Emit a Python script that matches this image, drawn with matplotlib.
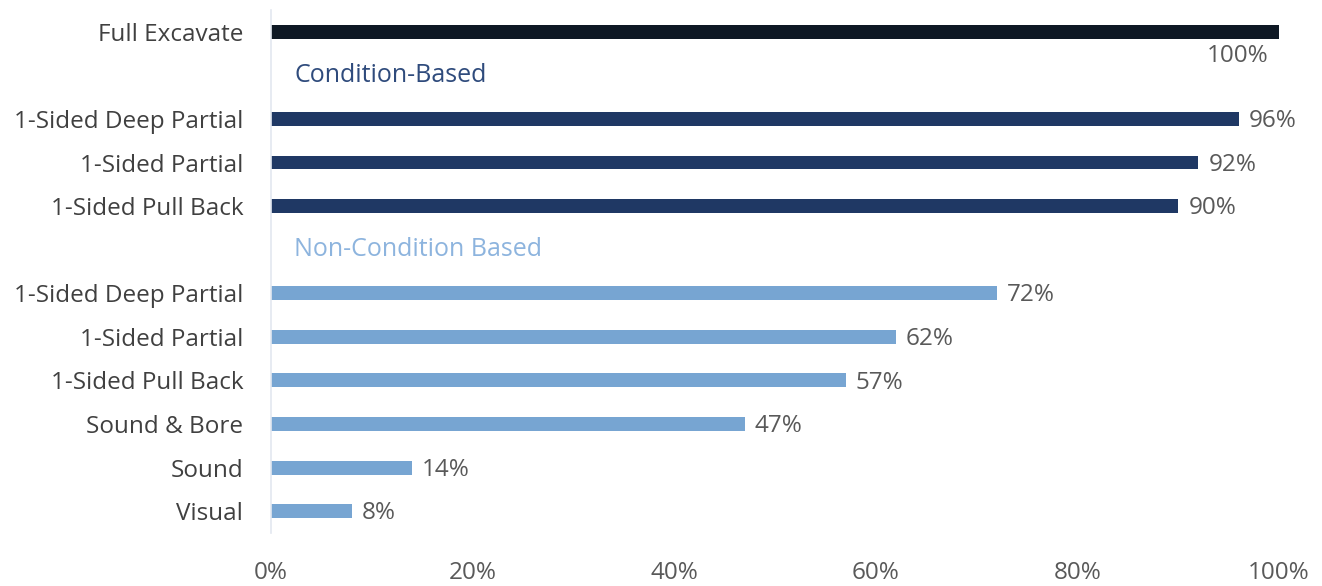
import matplotlib
matplotlib.use("Agg")
import matplotlib.pyplot as plt

# Data (top to bottom); None = group header row
labels = ["Full Excavate", "", "1-Sided Deep Partial", "1-Sided Partial", "1-Sided Pull Back",
          "", "1-Sided Deep Partial", "1-Sided Partial", "1-Sided Pull Back",
          "Sound & Bore", "Sound", "Visual"]
values = [100, None, 96, 92, 90, None, 72, 62, 57, 47, 14, 8]
groups = ["full", "hdr1", "cond", "cond", "cond", "hdr2", "non", "non", "non", "non", "non", "non"]
headers = {"hdr1": "Condition-Based", "hdr2": "Non-Condition Based"}
xticks = [0, 20, 40, 60, 80, 100]

colors = {"full": "#0e1824", "cond": "#1f3864", "non": "#77a5d2"}
header_colors = {"hdr1": "#2f4b7c", "hdr2": "#8db4de"}

plt.rcParams['font.family'] = ['Open Sans', 'DejaVu Sans']
FS = 17.5

fig = plt.figure(figsize=(13.22, 5.86), dpi=100)
ax = fig.add_axes([0.205, 0.0904, 0.7625, 0.8926])

n = len(labels)
ys = list(range(n))
for y, v, g in zip(ys, values, groups):
    if v is None:
        ax.text(2.3, y, headers[g], color=header_colors[g], fontsize=18,
                va="center", ha="left")
        continue
    ax.barh(y, v, height=0.32, color=colors[g])
    if v >= 100:
        ax.text(v - 1.0, y + 0.55, f"{v}%", color="#595959", fontsize=FS,
                va="center", ha="right")
    else:
        ax.text(v + 1.0, y + 0.05, f"{v}%", color="#595959", fontsize=FS,
                va="center", ha="left")

ax.set_ylim(n - 0.5, -0.5)
ax.set_xlim(0, 100)
ax.set_yticks(ys)
ax.set_yticklabels(labels, fontsize=FS, color="#404040")
ax.set_xticks(xticks)
ax.set_xticklabels([f"{t}%" for t in xticks], fontsize=FS, color="#595959")
ax.tick_params(axis="both", length=0)
ax.tick_params(axis="x", pad=20)
ax.tick_params(axis="y", pad=20)
for s in ["top", "right", "bottom"]:
    ax.spines[s].set_visible(False)
ax.spines["left"].set_color("#e3e8f0")
ax.spines["left"].set_linewidth(1.2)

fig.savefig("out.png", dpi=100)
